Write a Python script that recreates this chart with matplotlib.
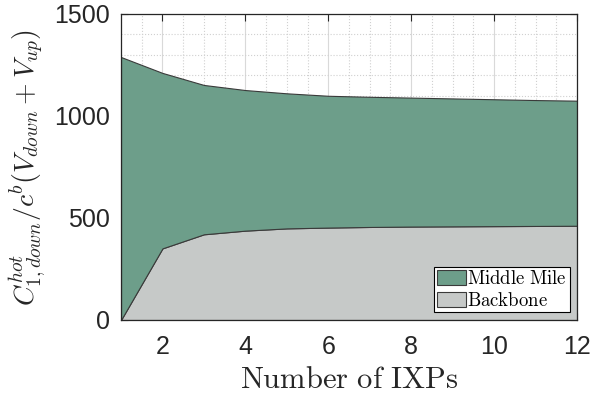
import numpy as np
import matplotlib
matplotlib.use("Agg")
import matplotlib.pyplot as plt
from matplotlib.ticker import MultipleLocator

plt.rcParams['font.family'] = ['Liberation Sans', 'DejaVu Sans']
plt.rcParams['mathtext.fontset'] = 'cm'

# data
ixps = [1, 2, 3, 4, 5, 6, 7, 8, 9, 10, 11, 12]
total = [1289, 1211, 1152, 1127, 1111, 1099, 1094, 1090, 1086, 1082, 1078, 1075]
backbone = [0, 351, 420, 438, 449, 453, 456, 458, 459, 460, 461, 462]
middle_mile = [t - b for t, b in zip(total, backbone)]

green = '#6d9e8a'
gray = '#c6c9c8'
edge = '#3a3a3a'

fig = plt.figure(figsize=(5.92, 3.99), dpi=100)
ax = fig.add_axes([0.2044, 0.198, 0.7703, 0.767])

ax.stackplot(ixps, backbone, middle_mile, colors=[gray, green],
             edgecolor=edge, linewidth=0.8,
             labels=[r'$\mathrm{Backbone}$', r'$\mathrm{Middle\ Mile}$'],
             zorder=2)

ax.set_xlim(1, 12)
ax.set_ylim(0, 1500)
ax.set_xticks([2, 4, 6, 8, 10, 12])
ax.set_yticks([0, 500, 1000, 1500])
ax.xaxis.set_minor_locator(MultipleLocator(0.5))
ax.yaxis.set_minor_locator(MultipleLocator(100))

ax.grid(which='major', color='#d9d9d9', linestyle='-', linewidth=0.8, zorder=0)
ax.grid(which='minor', color='#d0d0d0', linestyle=':', linewidth=0.8, zorder=0)
ax.set_axisbelow(True)

ax.tick_params(which='major', direction='in', top=True, right=True,
               length=5, width=0.8, labelsize=18, colors='#262626', pad=8)
ax.tick_params(axis='x', which='major', pad=11)
ax.tick_params(which='minor', length=0)
for s in ax.spines.values():
    s.set_color('#262626')
    s.set_linewidth(0.9)
    s.set_zorder(5)

ax.set_xlabel(r'$\mathrm{Number\ of\ IXPs}$', fontsize=22, color='#262626', labelpad=4)
ax.set_ylabel(r'$C^{hot}_{1,down}/c^{b}(V_{down}+V_{up})$', fontsize=20,
              color='#262626', labelpad=4)

handles, labels = ax.get_legend_handles_labels()
leg = ax.legend(handles[::-1], labels[::-1], loc='lower right', fontsize=13.5,
                fancybox=False, framealpha=1, edgecolor='black',
                handlelength=1.55, handleheight=0.85, handletextpad=0.08,
                labelspacing=0.2, borderpad=0.15, borderaxespad=0.4)
leg.get_frame().set_linewidth(0.8)

fig.savefig('out.png', dpi=100)
